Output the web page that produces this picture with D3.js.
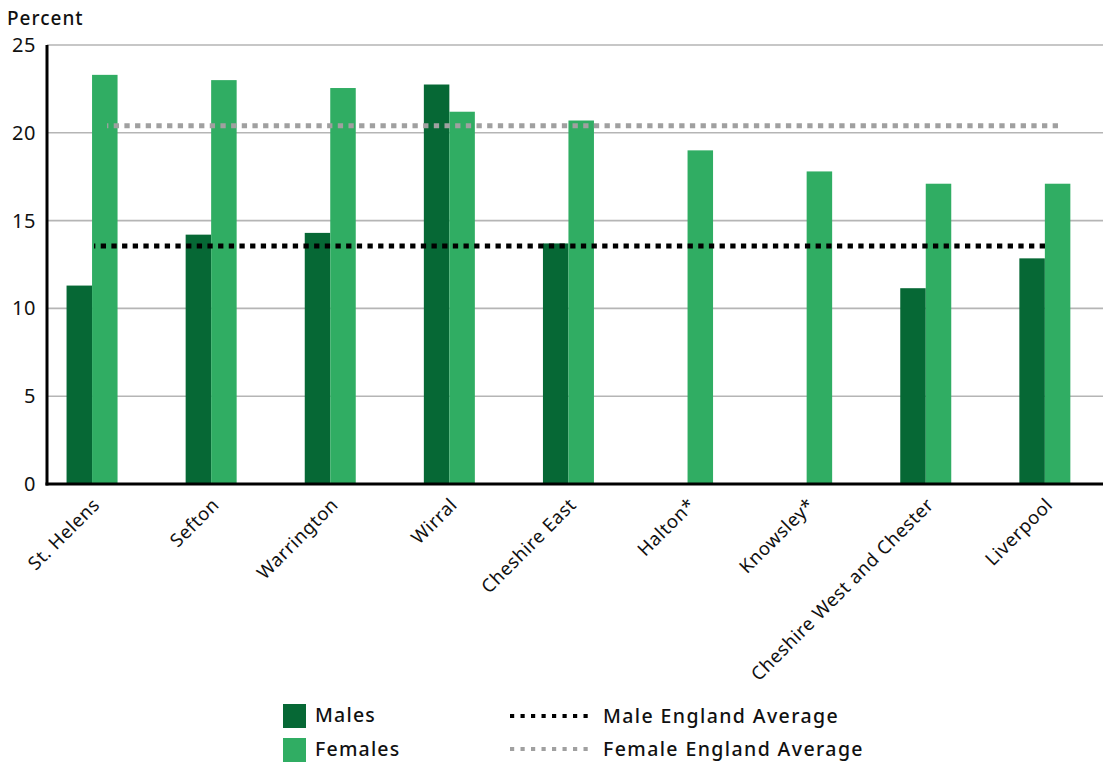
<!DOCTYPE html>
<html>
<head>
<meta charset="utf-8">
<script src="https://cdn.jsdelivr.net/npm/d3@7"></script>
<style>
  html, body { margin: 0; padding: 0; background: #fff; }
  svg { display: block; font-family: "Noto Sans", "DejaVu Sans", sans-serif; }
</style>
</head>
<body>
<svg id="chart" width="1103" height="762"></svg>
<script>
// ---- Data ----
const categories = ["St. Helens", "Sefton", "Warrington", "Wirral", "Cheshire East", "Halton*", "Knowsley*", "Cheshire West and Chester", "Liverpool"];
const males   = [11.3, 14.2, 14.3, 22.75, 13.7, null, null, 11.15, 12.85];
const females = [23.3, 23.0, 22.55, 21.2, 20.7, 19.0, 17.8, 17.1, 17.1];
const maleEnglandAverage = 13.55;
const femaleEnglandAverage = 20.4;
const yTicks = [0, 5, 10, 15, 20, 25];
const seriesNames = ["Males", "Females"];
const legendLineNames = ["Male England Average", "Female England Average"];

// ---- Styles ----
const colMale = "#066835";
const colFemale = "#30ad63";
const colMaleAvg = "#000000";
const colFemaleAvg = "#a0a0a0";

const svg = d3.select("#chart");

const plotLeft = 47, plotRight = 1103, plotTop = 45, plotBottom = 484;

const y = d3.scaleLinear().domain([0, 25]).range([plotBottom, plotTop]);
const x = d3.scaleBand().domain(categories).range([32.5, 1104.4]).padding(0);
const inner = d3.scaleBand().domain(seriesNames).range([-25.5, 25.5]).padding(0);

// Gridlines
svg.append("g")
  .selectAll("line")
  .data(yTicks.filter(d => d > 0))
  .join("line")
  .attr("x1", plotLeft).attr("x2", plotRight)
  .attr("y1", d => y(d)).attr("y2", d => y(d))
  .attr("stroke", "#b5b5b5").attr("stroke-width", 1.6);

// Bars
const groups = svg.append("g")
  .selectAll("g")
  .data(categories.map((c, i) => ({ c, m: males[i], f: females[i] })))
  .join("g")
  .attr("transform", d => `translate(${x(d.c) + x.bandwidth() / 2},0)`);

groups.filter(d => d.m != null).append("rect")
  .attr("x", inner("Males")).attr("width", inner.bandwidth())
  .attr("y", d => y(d.m)).attr("height", d => y(0) - y(d.m))
  .attr("fill", colMale);

groups.filter(d => d.f != null).append("rect")
  .attr("x", inner("Females")).attr("width", inner.bandwidth())
  .attr("y", d => y(d.f)).attr("height", d => y(0) - y(d.f))
  .attr("fill", colFemale);

// Average lines
const firstC = x(categories[0]) + x.bandwidth() / 2;
const lastC = x(categories[categories.length - 1]) + x.bandwidth() / 2;

svg.append("line")
  .attr("x1", firstC + 15).attr("x2", lastC + 17)
  .attr("y1", y(femaleEnglandAverage)).attr("y2", y(femaleEnglandAverage))
  .attr("stroke", colFemaleAvg).attr("stroke-width", 5)
  .attr("stroke-dasharray", "5.3 5.37").attr("stroke-dashoffset", 4);

svg.append("line")
  .attr("x1", firstC + 2).attr("x2", lastC + 3)
  .attr("y1", y(maleEnglandAverage)).attr("y2", y(maleEnglandAverage))
  .attr("stroke", colMaleAvg).attr("stroke-width", 5)
  .attr("stroke-dasharray", "5.3 5.37").attr("stroke-dashoffset", 4);

// Axes lines
svg.append("line")
  .attr("x1", plotLeft).attr("x2", plotLeft)
  .attr("y1", plotTop).attr("y2", plotBottom + 1.5)
  .attr("stroke", "#000").attr("stroke-width", 3);
svg.append("line")
  .attr("x1", plotLeft - 1.5).attr("x2", plotRight)
  .attr("y1", plotBottom).attr("y2", plotBottom)
  .attr("stroke", "#000").attr("stroke-width", 3);

// Y axis via d3 axis (labels only)
const yAxis = svg.append("g")
  .attr("transform", `translate(${plotLeft},0)`)
  .call(d3.axisLeft(y).tickValues(yTicks).tickSize(0).tickPadding(11).tickFormat(d3.format("d")));
yAxis.select(".domain").remove();
yAxis.selectAll("text")
  .attr("font-family", "'Noto Sans', sans-serif")
  .attr("font-size", 20).attr("letter-spacing", 0.6).attr("fill", "#111");

// Y title
svg.append("text")
  .attr("x", 7).attr("y", 25)
  .attr("font-size", 19).attr("font-weight", 500).attr("letter-spacing", 1).attr("fill", "#111")
  .text("Percent");

// X labels via axis
const xAxis = svg.append("g")
  .attr("transform", `translate(0,${plotBottom})`)
  .call(d3.axisBottom(x).tickSize(0).tickPadding(0));
xAxis.select(".domain").remove();
xAxis.selectAll("text")
  .attr("font-family", "'Noto Sans', sans-serif")
  .attr("font-size", 18.5).attr("letter-spacing", 0.6).attr("fill", "#111")
  .attr("text-anchor", "end")
  .attr("dy", null)
  .attr("transform", "translate(9,22) rotate(-45)")
  .attr("y", 0).attr("x", 0);

// Legend
const legend = svg.append("g");
const sqColors = [colMale, colFemale];
seriesNames.forEach((name, i) => {
  const yy = 716 + i * 34;
  legend.append("rect").attr("x", 283).attr("y", yy - 12).attr("width", 23).attr("height", 24).attr("fill", sqColors[i]);
  legend.append("text").attr("x", 315).attr("y", yy + 6).attr("font-size", 19.5).attr("font-weight", 500).attr("letter-spacing", 1.2).attr("fill", "#111").text(name);
});
const lnColors = [colMaleAvg, colFemaleAvg];
legendLineNames.forEach((name, i) => {
  const yy = 716 + i * 33;
  legend.append("line").attr("x1", 510).attr("x2", 594).attr("y1", yy).attr("y2", yy)
    .attr("stroke", lnColors[i]).attr("stroke-width", 4).attr("stroke-dasharray", "4.2 6.3");
  legend.append("text").attr("x", 603).attr("y", yy + 7).attr("font-size", 19.5).attr("font-weight", 500).attr("letter-spacing", 1.4).attr("fill", "#111").text(name);
});
</script>
</body>
</html>
